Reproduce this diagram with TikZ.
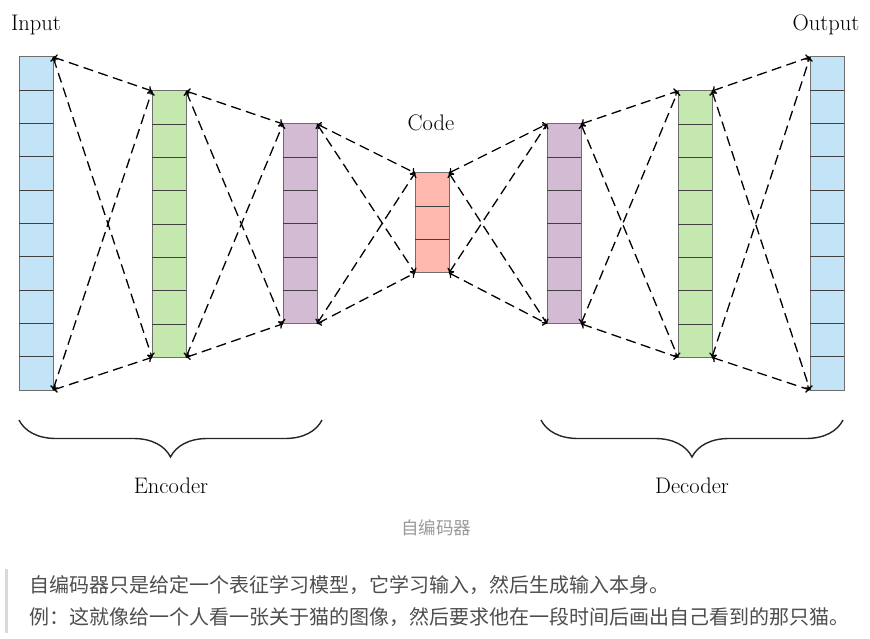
\documentclass[tikz,border=0pt]{standalone}
\usepackage{fontspec}
\newfontfamily\cjk{Noto Sans CJK SC}
\usetikzlibrary{decorations.pathreplacing,arrows.meta}
\definecolor{cblue}{HTML}{C3E3F6}
\definecolor{cgreen}{HTML}{C5E8AE}
\definecolor{cpurple}{HTML}{D3BBD4}
\definecolor{cred}{HTML}{FFB8AD}
\definecolor{cedge}{HTML}{6E6E6E}
\definecolor{ctext}{HTML}{4D4D4D}
\definecolor{ccap}{HTML}{999999}
\tikzset{
  layerbox/.style={draw=cedge, line width=1pt, minimum width=34pt, inner sep=0pt, outer sep=0pt},
  cellline/.style={draw=black!75, line width=0.9pt},
  conn/.style={dash pattern=on 10pt off 5.5pt, line width=1.3pt, {To[length=4pt,width=8pt]}-{To[length=4pt,width=8pt]}},
  lbl/.style={font=\fontsize{22.5}{26}\selectfont, text=black},
  bracestyle/.style={decorate, decoration={brace, mirror, amplitude=37pt}, line width=1.4pt, black!85},
}
\newcommand{\mylayer}[5]{% name, x left, y top, n, color
  \node[layerbox, fill=#5, minimum height=#4*33.3pt, anchor=north west] (#1) at (#2,#3) {};
  \pgfmathtruncatemacro{\lastk}{#4-1}
  \foreach \k in {1,...,\lastk} {
    \draw[cellline] ({#2},{#3+\k*33.3}) -- ({#2+34},{#3+\k*33.3});
  }
}
\begin{document}
\begin{tikzpicture}[x=1pt, y=-1pt]
\useasboundingbox (0,0) rectangle (870,639);
\mylayer{inp}{19}{57}{10}{cblue}
\mylayer{ea}{152}{91}{8}{cgreen}
\mylayer{eb}{283}{124}{6}{cpurple}
\mylayer{code}{415}{173}{3}{cred}
\mylayer{db}{547}{124}{6}{cpurple}
\mylayer{da}{678}{91}{8}{cgreen}
\mylayer{out}{810}{57}{10}{cblue}
\foreach \a/\b in {inp/ea, ea/eb, eb/code, code/db, db/da, da/out} {
  \draw[conn] (\a.north east) -- (\b.north west);
  \draw[conn] (\a.north east) -- (\b.south west);
  \draw[conn] (\a.south east) -- (\b.north west);
  \draw[conn] (\a.south east) -- (\b.south west);
}
\node[lbl] (tin) at (36,25) {Input};
\node[lbl] (tout) at (826,25) {Output};
\node[lbl] (tcode) at (431,123) {Code};
\coordinate (e1) at (19,420);
\coordinate (e2) at (322,420);
\coordinate (d1) at (541,420);
\coordinate (d2) at (843,420);
\draw[bracestyle] (e1) -- (e2);
\draw[bracestyle] (d1) -- (d2);
\node[lbl] (tenc) at (171,486) {Encoder};
\node[lbl] (tdec) at (692,486) {Decoder};
\node[font=\cjk\fontsize{17.5}{19}\selectfont, text=ccap] (cap) at (436,528) {自编码器};
\fill[black!15] (5,569) rectangle (8,633);
\node[font=\cjk\fontsize{20}{22}\selectfont, text=ctext, anchor=west, inner sep=0pt] (l1) at (29,585) {自编码器只是给定一个表征学习模型，它学习输入，然后生成输入本身。};
\node[font=\cjk\fontsize{20}{22}\selectfont, text=ctext, anchor=west, inner sep=0pt] (l2) at (29,617) {例：这就像给一个人看一张关于猫的图像，然后要求他在一段时间后画出自己看到的那只猫。};
\end{tikzpicture}
\end{document}
